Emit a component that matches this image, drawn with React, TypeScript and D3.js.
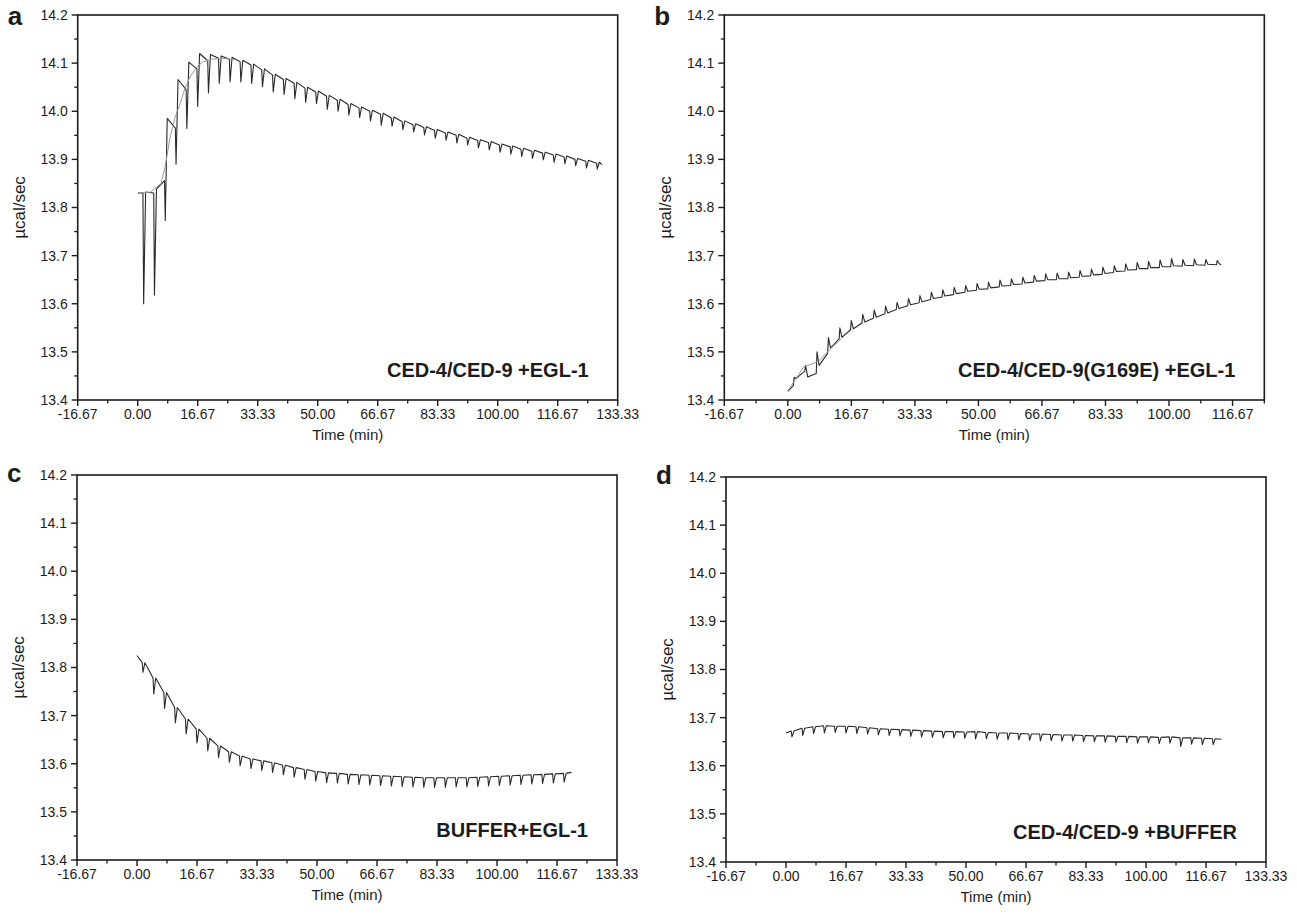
import React from 'react';
import * as d3 from 'd3';

// injection times (min), shared by all four runs
const injectionTimes = [
  1.5, 4.5, 7.5, 10.5, 13.5, 16.5, 19.5, 22.5, 25.5, 28.5, 31.5, 34.5, 37.5, 40.5, 43.5,
  46.5, 49.5, 52.5, 55.5, 58.5, 61.5, 64.5, 67.5, 70.5, 73.5, 76.5, 79.5, 82.5, 85.5, 88.5,
  91.5, 94.5, 97.5, 100.5, 103.5, 106.5, 109.5, 112.5, 115.5, 118.5, 121.5, 124.5, 127.5,
];

const yTickLabels = ['13.4', '13.5', '13.6', '13.7', '13.8', '13.9', '14.0', '14.1', '14.2'];
const xTickLabels = ['-16.67', '0.00', '16.67', '33.33', '50.00', '66.67', '83.33', '100.00', '116.67', '133.33'];
const xTickLabelsB = ['-16.67', '0.00', '16.67', '33.33', '50.00', '66.67', '83.33', '100.00', '116.67'];

// panel a: CED-4/CED-9 +EGL-1
const startA = [0, 13.83];
const endA = [129, 13.889];
const preA = [
  13.83, 13.83, 13.856, 13.965, 14.045, 14.088, 14.105, 14.11, 14.108, 14.103, 14.096, 14.086,
  14.075, 14.066, 14.058, 14.048, 14.04, 14.031, 14.023, 14.014, 14.007, 14.0, 13.994, 13.986,
  13.978, 13.972, 13.966, 13.96, 13.955, 13.95, 13.944, 13.939, 13.935, 13.93, 13.926, 13.921,
  13.917, 13.913, 13.909, 13.905, 13.9, 13.896, 13.892,
];
const dipA = [
  13.6, 13.618, 13.773, 13.89, 13.964, 14.01, 14.038, 14.058, 14.061, 14.061, 14.058, 14.051,
  14.04, 14.035, 14.026, 14.019, 14.016, 14.004, 14.0, 13.992, 13.987, 13.98, 13.971, 13.969,
  13.962, 13.957, 13.951, 13.944, 13.94, 13.934, 13.93, 13.924, 13.92, 13.915, 13.911, 13.906,
  13.902, 13.899, 13.894, 13.891, 13.887, 13.882, 13.88,
];
const postA = [
  13.832, 13.838, 13.985, 14.066, 14.102, 14.12, 14.118, 14.115, 14.112, 14.106, 14.098, 14.088,
  14.077, 14.068, 14.06, 14.05, 14.042, 14.033, 14.025, 14.016, 14.009, 14.002, 13.996, 13.988,
  13.98, 13.974, 13.968, 13.962, 13.957, 13.952, 13.946, 13.941, 13.937, 13.932, 13.928, 13.923,
  13.919, 13.915, 13.911, 13.907, 13.902, 13.898, 13.894,
];
const greyTimeA = [0.5, 3.5, 6.5, 7.6, 9.0, 10.4, 11.8, 13.1, 14.5, 16.4, 18.2, 20.6, 23.5, 27];
const greyValA = [13.83, 13.832, 13.85, 13.884, 13.946, 13.988, 14.016, 14.047, 14.071, 14.092, 14.103, 14.108, 14.11, 14.107];

// panel b: CED-4/CED-9(G169E) +EGL-1 (upward spikes)
const startB = [0, 13.418];
const endB = [113.7, 13.681];
const preB = [
  13.43, 13.46, 13.455, 13.497, 13.527, 13.546, 13.56, 13.57, 13.579, 13.588, 13.596, 13.602,
  13.609, 13.614, 13.619, 13.624, 13.628, 13.631, 13.635, 13.638, 13.641, 13.645, 13.648, 13.65,
  13.652, 13.655, 13.658, 13.661, 13.665, 13.668, 13.671, 13.673, 13.675, 13.677, 13.678, 13.679,
  13.68, 13.681,
];
const peakB = [
  13.447, 13.472, 13.5, 13.53, 13.55, 13.565, 13.578, 13.587, 13.595, 13.603, 13.611, 13.617,
  13.624, 13.629, 13.634, 13.638, 13.642, 13.645, 13.649, 13.652, 13.655, 13.659, 13.662, 13.664,
  13.666, 13.669, 13.672, 13.676, 13.679, 13.683, 13.686, 13.688, 13.691, 13.694, 13.692, 13.693,
  13.692, 13.69,
];
const postB = [
  13.445, 13.448, 13.472, 13.508, 13.53, 13.548, 13.562, 13.572, 13.581, 13.59, 13.598, 13.604,
  13.611, 13.616, 13.621, 13.626, 13.63, 13.633, 13.637, 13.64, 13.643, 13.647, 13.65, 13.652,
  13.654, 13.657, 13.66, 13.663, 13.667, 13.67, 13.673, 13.675, 13.677, 13.679, 13.68, 13.681,
  13.682, 13.683,
];
const greyTimeB = [0, 4.2, 8, 11, 14];
const greyValB = [13.419, 13.469, 13.48, 13.505, 13.527];

// panel c: BUFFER+EGL-1
const startC = [0, 13.825];
const endC = [120.7, 13.582];
const preC = [
  13.81, 13.778, 13.748, 13.717, 13.693, 13.672, 13.653, 13.637, 13.625, 13.616, 13.61, 13.606,
  13.602, 13.597, 13.592, 13.588, 13.584, 13.581, 13.58, 13.578, 13.577, 13.576, 13.575, 13.574,
  13.573, 13.572, 13.571, 13.571, 13.571, 13.571, 13.571, 13.572, 13.573, 13.574, 13.575, 13.576,
  13.577, 13.578, 13.579, 13.58,
];
const dipC = [
  13.79, 13.745, 13.715, 13.685, 13.662, 13.643, 13.627, 13.613, 13.603, 13.596, 13.59, 13.586,
  13.582, 13.577, 13.572, 13.568, 13.564, 13.561, 13.56, 13.558, 13.557, 13.556, 13.555, 13.554,
  13.553, 13.552, 13.551, 13.551, 13.551, 13.552, 13.552, 13.553, 13.554, 13.555, 13.556, 13.557,
  13.558, 13.559, 13.56, 13.562,
];

// panel d: CED-4/CED-9 +BUFFER
const startD = [0, 13.668];
const endD = [121, 13.655];
const preD = [
  13.672, 13.678, 13.681, 13.683, 13.682, 13.682, 13.681, 13.679, 13.677, 13.676, 13.675, 13.674,
  13.673, 13.672, 13.671, 13.671, 13.67, 13.671, 13.669, 13.668, 13.668, 13.667, 13.666, 13.666,
  13.665, 13.664, 13.664, 13.663, 13.662, 13.662, 13.661, 13.661, 13.66, 13.66, 13.659, 13.66,
  13.658, 13.658, 13.657, 13.656,
];
const dipD = [
  13.66, 13.663, 13.667, 13.668, 13.669, 13.668, 13.667, 13.666, 13.664, 13.663, 13.662, 13.661,
  13.66, 13.659, 13.658, 13.658, 13.657, 13.656, 13.656, 13.655, 13.654, 13.654, 13.653, 13.652,
  13.652, 13.651, 13.651, 13.65, 13.65, 13.649, 13.649, 13.648, 13.647, 13.648, 13.646, 13.647,
  13.64, 13.645, 13.644, 13.644,
];

const FONT = "'Liberation Sans', Arial, Helvetica, sans-serif";
const INK = '#1c1c1c';

// trace = start, then (before, spike, recovered) for every injection, then end
function tracePoints(start, end, pre, spike, post) {
  const pts = [[start[0], start[1]]];
  pre.forEach((p, i) => {
    const t = injectionTimes[i];
    pts.push([t - 0.05, p], [t + 0.15, spike[i]], [t + 0.7, post ? post[i] : p]);
  });
  pts.push([end[0], end[1]]);
  return pts;
}

const panels = [
  {
    letter: 'a', left: 77.7, right: 617.7, top: 15, bottom: 400, xMax: 133.33, xLabels: xTickLabels,
    trace: tracePoints(startA, endA, preA, dipA, postA),
    grey: greyTimeA.map((t, i) => [t, greyValA[i]]),
    label: 'CED-4/CED-9 +EGL-1',
  },
  {
    letter: 'b', left: 724.3, right: 1264.3, top: 15, bottom: 400, xMax: 125, xLabels: xTickLabelsB,
    trace: tracePoints(startB, endB, preB, peakB, postB),
    grey: greyTimeB.map((t, i) => [t, greyValB[i]]),
    label: 'CED-4/CED-9(G169E) +EGL-1',
  },
  {
    letter: 'c', left: 77, right: 617, top: 475, bottom: 860, xMax: 133.33, xLabels: xTickLabels,
    trace: tracePoints(startC, endC, preC, dipC, null),
    grey: null,
    label: 'BUFFER+EGL-1',
  },
  {
    letter: 'd', left: 726, right: 1266, top: 477, bottom: 862, xMax: 133.33, xLabels: xTickLabels,
    trace: tracePoints(startD, endD, preD, dipD, null),
    grey: null,
    label: 'CED-4/CED-9 +BUFFER',
  },
];

function Panel({ p }) {
  const x = d3.scaleLinear().domain([-16.67, p.xMax]).range([p.left, p.right]);
  const y = d3.scaleLinear().domain([13.4, 14.2]).range([p.bottom, p.top]);
  const line = d3.line().x(d => x(d[0])).y(d => y(d[1]));

  const xMajor = p.xLabels.map(s => +s);
  const xMinor = [];
  xMajor.forEach((v, i) => {
    const nxt = i < xMajor.length - 1 ? xMajor[i + 1] : v + 16.67;
    const mid = (v + nxt) / 2;
    if (mid <= p.xMax + 0.01) xMinor.push(mid);
  });
  const yMajor = yTickLabels.map(s => +s);
  const yMinor = yMajor.slice(0, -1).map(v => v + 0.05);
  const midY = (p.top + p.bottom) / 2;
  const letterY = p.top < 100 ? p.top + 10 : p.top + 7;

  return (
    <g>
      <path d={line(p.trace)} fill="none" stroke="#2a2a2a" strokeWidth={1.1} strokeLinejoin="round" />
      {p.grey && <path d={line(p.grey)} fill="none" stroke="#9a9a9a" strokeWidth={1} />}

      <rect x={p.left} y={p.top} width={p.right - p.left} height={p.bottom - p.top}
        fill="none" stroke={INK} strokeWidth={1.6} />

      {xMajor.map((v, i) => (
        <g key={'xm' + i}>
          <line x1={x(v)} x2={x(v)} y1={p.bottom} y2={p.bottom + 6} stroke={INK} strokeWidth={1.4} />
          <text x={x(v)} y={p.bottom + 19} textAnchor="middle" fontSize={14} fill={INK}>{p.xLabels[i]}</text>
        </g>
      ))}
      {xMinor.map((v, i) => (
        <line key={'xn' + i} x1={x(v)} x2={x(v)} y1={p.bottom} y2={p.bottom + 3.5} stroke={INK} strokeWidth={1.3} />
      ))}
      {yMajor.map((v, i) => (
        <g key={'ym' + i}>
          <line x1={p.left - 6} x2={p.left} y1={y(v)} y2={y(v)} stroke={INK} strokeWidth={1.4} />
          <text x={p.left - 10} y={y(v)} dy="0.35em" textAnchor="end" fontSize={14} fill={INK}>{yTickLabels[i]}</text>
        </g>
      ))}
      {yMinor.map((v, i) => (
        <line key={'yn' + i} x1={p.left - 3.5} x2={p.left} y1={y(v)} y2={y(v)} stroke={INK} strokeWidth={1.3} />
      ))}

      <text x={(p.left + p.right) / 2} y={p.bottom + 40} textAnchor="middle" fontSize={15} fill={INK}>Time (min)</text>
      <text transform={`translate(${p.left - 53},${midY}) rotate(-90)`} textAnchor="middle" fontSize={17} fill={INK}>µcal/sec</text>
      <text x={p.right - 29} y={p.bottom - 23} textAnchor="end" fontSize={20} fontWeight="bold" fill={INK}>{p.label}</text>
      <text x={p.left - 70} y={letterY} fontSize={26} fontWeight="bold" fill={INK}>{p.letter}</text>
    </g>
  );
}

export default function App() {
  return (
    <div style={{ position: 'absolute', left: 0, top: 0 }}>
      <svg width={1297} height={917} style={{ display: 'block', background: '#fff', fontFamily: FONT }}>
        {panels.map(p => <Panel key={p.letter} p={p} />)}
      </svg>
    </div>
  );
}
